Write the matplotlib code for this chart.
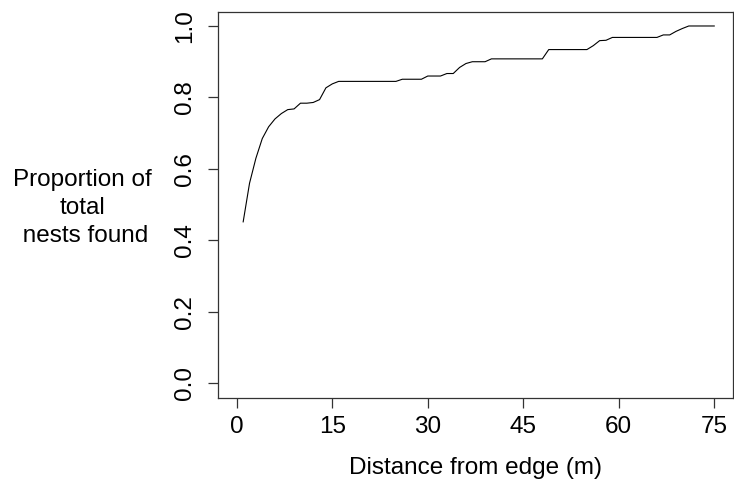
import matplotlib
matplotlib.use("Agg")
import matplotlib.pyplot as plt
import numpy as np

plt.rcParams["font.family"] = ["Liberation Sans", "DejaVu Sans"]

# Cumulative proportion of nests found, by distance from the edge (m)
distance = list(range(1, 76))
proportion = [
    0.452, 0.560, 0.630, 0.685, 0.718, 0.740, 0.755, 0.766, 0.768, 0.784,  # 1-10
    0.784, 0.786, 0.794, 0.827, 0.838, 0.845, 0.845, 0.845, 0.845, 0.845,  # 11-20
    0.845, 0.845, 0.845, 0.845, 0.845, 0.851, 0.851, 0.851, 0.851, 0.860,  # 21-30
    0.860, 0.860, 0.867, 0.867, 0.884, 0.895, 0.900, 0.900, 0.900, 0.908,  # 31-40
    0.908, 0.908, 0.908, 0.908, 0.908, 0.908, 0.908, 0.908, 0.934, 0.934,  # 41-50
    0.934, 0.934, 0.934, 0.934, 0.934, 0.945, 0.959, 0.960, 0.968, 0.968,  # 51-60
    0.968, 0.968, 0.968, 0.968, 0.968, 0.968, 0.975, 0.975, 0.985, 0.993,  # 61-70
    1.000, 1.000, 1.000, 1.000, 1.000,                                     # 71-75
]
x_ticks = [0, 15, 30, 45, 60, 75]
y_ticks = [0.0, 0.2, 0.4, 0.6, 0.8, 1.0]
y_tick_labels = ["0.0", "0.2", "0.4", "0.6", "0.8", "1.0"]

FS = 17.5

fig = plt.figure(figsize=(7.34, 4.83), dpi=100)
ax = fig.add_axes([0.2966, 0.1766, 0.7025, 0.7992])

ax.plot(distance, proportion, color="black", linewidth=0.8)

ax.set_xlim(-3, 78)
ax.set_ylim(-0.04, 1.04)
ax.set_xticks(x_ticks)
ax.set_xticklabels([str(t) for t in x_ticks])
ax.set_yticks(y_ticks)
ax.set_yticklabels(y_tick_labels)

for sp in ax.spines.values():
    sp.set_color("#333333")
    sp.set_linewidth(0.9)

ax.tick_params(axis="both", length=7.5, width=0.9, color="#333333",
               labelsize=FS, labelcolor="black")
ax.tick_params(axis="x", pad=6)
ax.tick_params(axis="y", pad=8, labelrotation=90)
for lbl in ax.get_yticklabels():
    lbl.set_verticalalignment("center")

ax.set_xlabel("Distance from edge (m)", fontsize=FS, labelpad=13)
fig.text(82 / 734, 1 - 208 / 483, "Proportion of\ntotal\n nests found",
         ha="center", va="center", fontsize=FS, linespacing=1.34)

fig.savefig("out.png", dpi=100, facecolor="white")
